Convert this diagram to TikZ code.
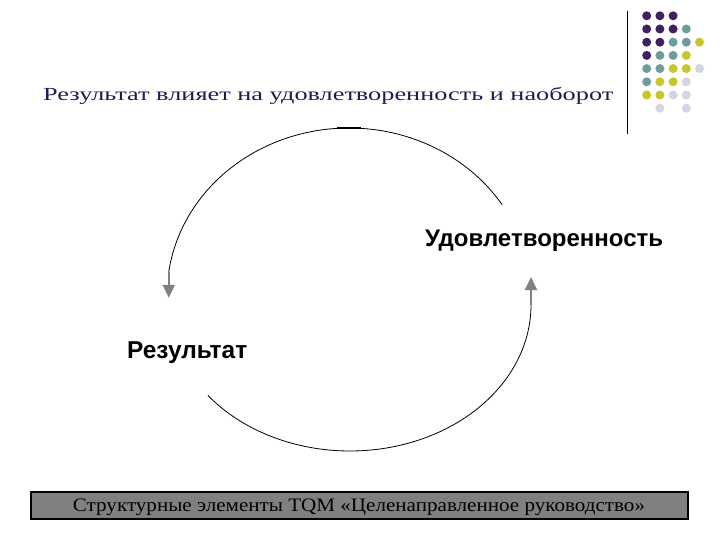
\documentclass[tikz,border=0pt]{standalone}
\usepackage{fontspec}
\setmainfont{Liberation Serif}
\setsansfont{Liberation Sans}
\usetikzlibrary{arrows.meta,calc}
\definecolor{dpurple}{RGB}{64,32,96}
\definecolor{dteal}{RGB}{110,156,156}
\definecolor{dyellow}{RGB}{200,198,40}
\definecolor{dlav}{RGB}{212,212,228}
\definecolor{titlecol}{RGB}{42,22,80}
\definecolor{arrgray}{RGB}{128,128,128}
\definecolor{boxgray}{RGB}{128,128,128}
\tikzset{
  dotnode/.style={circle,inner sep=0pt,minimum size=9pt},
  cyclearc/.style={draw=black,line width=0.8pt},
  grayarrow/.style={draw=arrgray,line width=2pt,-{Triangle[length=13pt,width=12pt]}},
  lbl/.style={inner sep=0pt,font=\sffamily\bfseries},
  txt/.style={inner sep=0pt}
}
\begin{document}
\begin{tikzpicture}[x=1pt,y=-1pt]
\fill[white] (0,0) rectangle (720,540);
\useasboundingbox (0,0) rectangle (720,540);
% decorative dots
\foreach \rr/\cc/\col in {0/0/dpurple,0/1/dpurple,0/2/dpurple,
  1/0/dpurple,1/1/dpurple,1/2/dpurple,1/3/dteal,
  2/0/dpurple,2/1/dpurple,2/2/dteal,2/3/dteal,2/4/dyellow,
  3/0/dpurple,3/1/dteal,3/2/dteal,3/3/dyellow,
  4/0/dteal,4/1/dteal,4/2/dyellow,4/3/dyellow,4/4/dlav,
  5/0/dteal,5/1/dyellow,5/2/dyellow,5/3/dlav,
  6/0/dyellow,6/1/dyellow,6/2/dlav,6/3/dlav,
  7/1/dlav,7/3/dlav}
  \node[dotnode,fill=\col] (d\rr\cc) at ({646.7+13.2*\cc},{15.8+13.2*\rr}) {};
% vertical rule
\coordinate (vt) at (627,11);
\coordinate (vb) at (627,134);
\draw[line width=1pt] (vt) -- (vb);
% title
\node[txt,anchor=base west,text=titlecol] (title) at (43,101)
  {\resizebox{570pt}{13.2pt}{Результат влияет на удовлетворенность и наоборот}};
% labels
\node[lbl,anchor=base west] (sat) at (425,246)
  {\resizebox{238pt}{!}{Удовлетворенность}};
\node[lbl,anchor=base west] (res) at (127,358)
  {\resizebox{120pt}{!}{Результат}};
% upper arc
\coordinate (ustart) at ({349+182*cos(172)},{295-167*sin(172)});
\draw[cyclearc] plot[domain=32.7:172,samples=90,smooth] ({349+182*cos(\x)},{295-167*sin(\x)});
\coordinate (tk1) at (337,128.3);
\coordinate (tk2) at (361,128.3);
\draw[line width=1.8pt] (tk1) -- (tk2);
\coordinate (ua2) at ($(ustart)+(0,26)$);
\draw[grayarrow] (ustart) -- (ua2);
% lower arc
\coordinate (la1) at (531,305);
\coordinate (la2) at (531,277);
\draw[cyclearc] plot[domain=218.3:360,samples=90,smooth] ({350+181*cos(\x)},{305-146*sin(\x)});
\draw[grayarrow] (la1) -- (la2);
% bottom box
\node[draw=black,line width=1.2pt,fill=boxgray,minimum width=657pt,minimum height=27pt,inner sep=0pt] (box) at (359.5,505.5) {};
\node[txt,anchor=base] (boxtxt) at (359,511.5)
  {\resizebox{572pt}{12.6pt}{Структурные элементы TQM «Целенаправленное руководство»}};
\end{tikzpicture}
\end{document}
